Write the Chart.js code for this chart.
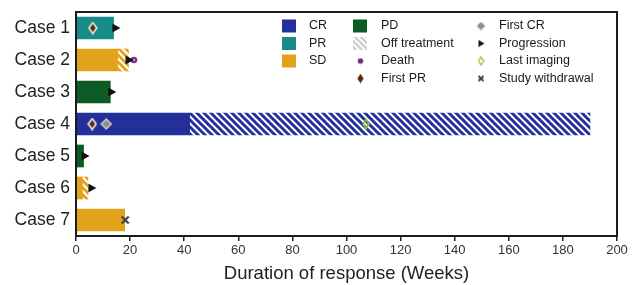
<!DOCTYPE html>
<html>
<head>
<meta charset="utf-8">
<script src="https://cdn.jsdelivr.net/npm/chart.js@4/dist/chart.umd.min.js"></script>
<style>
html,body{margin:0;padding:0;background:#fff;}
#wrap{width:635px;height:285px;position:relative;}
</style>
</head>
<body>
<div id="wrap"><canvas id="c" width="635" height="285"></canvas></div>
<script>
// ---- data ----
const cases = ['Case 1','Case 2','Case 3','Case 4','Case 5','Case 6','Case 7'];
const responseType = ['PR','SD','PD','CR','PD','SD','SD'];
const responseEnd = [13.9, 15.4, 12.7, 42, 2.8, 2.4, 18];
const offTreatEnd = [null, 19.4, null, 190, null, 4.4, null];
const firstPR = [6.2, null, null, 6.0, null, null, null];
const firstCR = [null, null, null, 11.2, null, null, null];
const progression = [14.9, 19.8, 13.4, null, 3.5, 6.0, null];
const death = [null, 21.4, null, null, null, null, null];
const lastImaging = [null, null, null, 107.2, null, null, null];
const withdrawal = [null, null, null, null, null, null, 18.2];
const xTicks = [0,20,40,60,80,100,120,140,160,180,200];

// ---- styles ----
const typeColor = {CR:'#23309b', PR:'#178b87', SD:'#e3a21c', PD:'#0c5a24'};

function mk(w,h,draw){const c=document.createElement('canvas');c.width=w;c.height=h;draw(c.getContext('2d'));return c;}
function hatch(color,n,lw){
  n=n||7;lw=lw||3;
  return mk(n,n,ctx=>{
    ctx.fillStyle='#fff';ctx.fillRect(0,0,n,n);
    ctx.strokeStyle=color;ctx.lineWidth=lw;ctx.lineCap='square';
    for(let k=-1;k<=1;k++){ctx.beginPath();ctx.moveTo(k*n,0);ctx.lineTo(k*n+n,n);ctx.stroke();}
  });
}
function diamond(w,h,fill,stroke,lw){
  return mk(w,h,ctx=>{
    const p=lw?lw/2+0.3:0.3;
    ctx.beginPath();ctx.moveTo(w/2,p);ctx.lineTo(w-p,h/2);ctx.lineTo(w/2,h-p);ctx.lineTo(p,h/2);ctx.closePath();
    if(fill){ctx.fillStyle=fill;ctx.fill();}
    if(stroke){ctx.strokeStyle=stroke;ctx.lineWidth=lw;ctx.stroke();}
  });
}
const mFirstPR = diamond(10,13,'#5b2a10','#f3ece4',1.6);
const mFirstCR = diamond(12,12,'#8d8d8d','#d0d0d0',1.4);
const mProg = mk(9,10,ctx=>{ctx.fillStyle='#111';ctx.beginPath();ctx.moveTo(0.5,0.5);ctx.lineTo(8.5,5);ctx.lineTo(0.5,9.5);ctx.closePath();ctx.fill();});
const mDeath = mk(8,8,ctx=>{ctx.fillStyle='#7d2a84';ctx.beginPath();ctx.arc(4,4,3.3,0,Math.PI*2);ctx.fill();ctx.fillStyle='#c9a0cc';ctx.beginPath();ctx.arc(4,4,1.2,0,Math.PI*2);ctx.fill();});
const mLastImg = diamond(8,12,null,'#8ec641',1.6);
const mWithdraw = mk(10,10,ctx=>{ctx.strokeStyle='#3b3b3b';ctx.lineWidth=2;ctx.beginPath();ctx.moveTo(1.5,1.5);ctx.lineTo(8.5,8.5);ctx.moveTo(8.5,1.5);ctx.lineTo(1.5,8.5);ctx.stroke();});

// legend-size markers
const lFirstPR = diamond(7,10,'#5b2a10',null,0);
const lFirstCR = diamond(9,9,'#8d8d8d',null,0);
const lProg = mk(7,8,ctx=>{ctx.fillStyle='#111';ctx.beginPath();ctx.moveTo(0.5,0.5);ctx.lineTo(6.5,4);ctx.lineTo(0.5,7.5);ctx.closePath();ctx.fill();});
const lDeath = mk(7,7,ctx=>{ctx.fillStyle='#7d2a84';ctx.beginPath();ctx.arc(3.5,3.5,2.8,0,Math.PI*2);ctx.fill();});
const lLastImg = diamond(7,10,null,'#8ec641',1.4);
const lWithdraw = mk(8,8,ctx=>{ctx.strokeStyle='#3b3b3b';ctx.lineWidth=1.8;ctx.beginPath();ctx.moveTo(1.5,1.5);ctx.lineTo(6.5,6.5);ctx.moveTo(6.5,1.5);ctx.lineTo(1.5,6.5);ctx.stroke();});

function pts(arr){const out=[];arr.forEach((v,i)=>{if(v!==null)out.push({x:v,y:cases[i]});});return out;}
function markerDS(label,arr,img){
  return {type:'scatter',label,data:pts(arr),pointStyle:img,pointRadius:6,pointHoverRadius:6,order:0,xAxisID:'x',yAxisID:'y'};
}

const respColors = responseType.map(t=>typeColor[t]);

const chartCanvas = document.getElementById('c');
const ctx2 = chartCanvas.getContext('2d');
const patterns = responseType.map(t=>ctx2.createPattern(hatch(typeColor[t]),'repeat'));

const datasets = [
  markerDS('First PR', firstPR, mFirstPR),
  markerDS('First CR', firstCR, mFirstCR),
  markerDS('Progression', progression, mProg),
  markerDS('Death', death, mDeath),
  markerDS('Last imaging', lastImaging, mLastImg),
  markerDS('Study withdrawal', withdrawal, mWithdraw),
  {type:'bar',label:'Response',indexAxis:'y',grouped:false,order:10,
   data:responseEnd.map(v=>[0,v]),backgroundColor:respColors,borderWidth:0,barThickness:22,xAxisID:'x',yAxisID:'y'},
  {type:'bar',label:'Off treatment',indexAxis:'y',grouped:false,order:11,
   data:offTreatEnd.map((v,i)=>v===null?null:[responseEnd[i],v]),backgroundColor:patterns,borderWidth:0,barThickness:22,xAxisID:'x',yAxisID:'y'}
];

const FONT = "'Liberation Sans', Arial, sans-serif";

const framePlugin = {
  id:'frame',
  afterDraw(chart){
    const {ctx,chartArea:a}=chart;
    ctx.save();
    ctx.strokeStyle='#1c1c1c';ctx.lineWidth=2;
    ctx.strokeRect(a.left,a.top,a.right-a.left,a.bottom-a.top);
    // legend
    ctx.font = "12.5px "+FONT;
    ctx.fillStyle='#1a1a1a';ctx.textBaseline='middle';ctx.textAlign='left';
    const rows=[26,43.5,61,78.5];
    // column 1
    [['CR',typeColor.CR],['PR',typeColor.PR],['SD',typeColor.SD]].forEach((it,i)=>{
      ctx.fillStyle=it[1];ctx.fillRect(282,rows[i]-6.5,14,13);
      ctx.fillStyle='#1a1a1a';ctx.fillText(it[0],309,rows[i]);
    });
    // column 2
    ctx.fillStyle=typeColor.PD;ctx.fillRect(353,rows[0]-6.5,14,13);
    const gp=ctx.createPattern(hatch('#cfcfcf',6,2.4),'repeat');
    ctx.fillStyle=gp;ctx.fillRect(353,rows[1]-6.5,14,13);
    ctx.drawImage(lDeath,360.5-3.5,rows[2]-3.5);
    ctx.drawImage(lFirstPR,360.5-3.5,rows[3]-5);
    ctx.fillStyle='#1a1a1a';
    ['PD','Off treatment','Death','First PR'].forEach((t,i)=>ctx.fillText(t,381,rows[i]));
    // column 3
    ctx.drawImage(lFirstCR,481-4.5,rows[0]-4.5);
    ctx.drawImage(lProg,481-3,rows[1]-4);
    ctx.drawImage(lLastImg,481-3.5,rows[2]-5);
    ctx.drawImage(lWithdraw,481-4,rows[3]-4);
    ctx.fillStyle='#1a1a1a';
    ['First CR','Progression','Last imaging','Study withdrawal'].forEach((t,i)=>ctx.fillText(t,499,rows[i]));
    ctx.restore();
  }
};

new Chart(chartCanvas,{
  data:{labels:cases,datasets},
  options:{
    responsive:false,animation:false,
    layout:{padding:{left:0,right:18,top:12,bottom:0}},
    plugins:{legend:{display:false},tooltip:{enabled:false}},
    scales:{
      x:{type:'linear',min:0,max:200,position:'bottom',
        afterBuildTicks(s){s.ticks=xTicks.map(v=>({value:v}));},
        afterFit(s){s.height=49;},
        grid:{display:true,drawOnChartArea:false,drawTicks:true,tickLength:5,color:'#1c1c1c',lineWidth:1.5},
        border:{display:true,color:'#1c1c1c',width:2},
        ticks:{color:'#333',font:{family:FONT,size:13},padding:2,maxRotation:0,autoSkip:false},
        title:{display:true,text:'Duration of response (Weeks)',color:'#222',font:{family:FONT,size:18.5},padding:{top:3,bottom:0}}
      },
      y:{type:'category',labels:cases,offset:true,
        afterFit(s){s.width=76;s.paddingTop=0;s.paddingBottom=0;},
        grid:{display:false,drawTicks:false},
        border:{display:true,color:'#1c1c1c',width:2},
        ticks:{color:'#222',font:{family:FONT,size:17.5},padding:6}
      }
    }
  },
  plugins:[framePlugin]
});
</script>
</body>
</html>
